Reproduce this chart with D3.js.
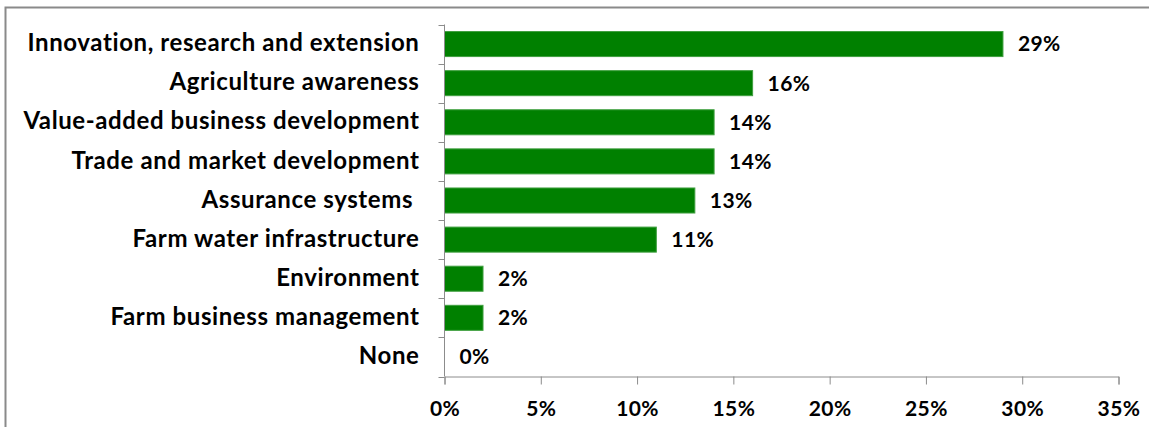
<!DOCTYPE html>
<html>
<head>
<meta charset="utf-8">
<script src="https://cdn.jsdelivr.net/npm/d3@7"></script>
<style>
  html, body { margin: 0; padding: 0; background: #fff; }
  svg { display: block; }
  text { font-family: Lato, "Open Sans", sans-serif; font-weight: bold; fill: #000; white-space: pre; }
</style>
</head>
<body>
<svg id="chart" width="1149" height="427"></svg>
<script>
// Priority areas and share of responses (%)
const categories = [
  "Innovation, research and extension",
  "Agriculture awareness",
  "Value-added business development",
  "Trade and market development",
  "Assurance systems ",
  "Farm water infrastructure",
  "Environment",
  "Farm business management",
  "None"
];
const shares = [29, 16, 14, 14, 13, 11, 2, 2, 0];
const xTicks = [0, 5, 10, 15, 20, 25, 30, 35];

const svg = d3.select("#chart");
const W = 1149, H = 427;

// outer chart frame (top and left edges visible)
svg.append("path")
  .attr("d", `M5.5,${H} V7.5 H${W}`)
  .attr("fill", "none")
  .attr("stroke", "#8a8a8a")
  .attr("stroke-width", 2);

const plot = { left: 444.5, right: 1118.5, top: 24.5, bottom: 376.5 };

const x = d3.scaleLinear().domain([0, 35]).range([plot.left, plot.right]);
const y = d3.scaleBand().domain(categories).range([plot.top, plot.bottom]).paddingInner(0.36).paddingOuter(0.18);
const yBands = d3.scaleBand().domain(categories).range([plot.top, plot.bottom]);

// bars
svg.append("g").selectAll("rect")
  .data(categories)
  .join("rect")
  .attr("x", plot.left)
  .attr("y", d => y(d))
  .attr("width", (d, i) => x(shares[i]) - x(0))
  .attr("height", y.bandwidth())
  .attr("fill", "#008000")
  .attr("stroke", (d, i) => shares[i] > 0 ? "#3f9f3f" : "none")
  .attr("stroke-width", 1);

// value labels
svg.append("g").selectAll("text")
  .data(categories)
  .join("text")
  .attr("x", (d, i) => x(shares[i]) + 15)
  .attr("y", d => y(d) + y.bandwidth() / 2 + 2)
  .attr("dominant-baseline", "middle")
  .attr("font-size", 21)
  .attr("letter-spacing", "0.4px")
  .text((d, i) => shares[i] + "%");

// vertical category axis with ticks between bands
const yAxisG = svg.append("g").attr("transform", `translate(${plot.left},0)`);
yAxisG.append("line")
  .attr("x1", 0).attr("x2", 0)
  .attr("y1", plot.top).attr("y2", plot.bottom)
  .attr("stroke", "#8c8c8c").attr("stroke-width", 1);
yAxisG.selectAll("line.tick")
  .data(d3.range(categories.length + 1))
  .join("line")
  .attr("class", "tick")
  .attr("x1", -6).attr("x2", 0)
  .attr("y1", i => Math.round(plot.top + i * yBands.step()) + 0.5)
  .attr("y2", i => Math.round(plot.top + i * yBands.step()) + 0.5)
  .attr("stroke", "#8c8c8c");
yAxisG.selectAll("text")
  .data(categories)
  .join("text")
  .attr("x", -25)
  .attr("y", d => yBands(d) + yBands.bandwidth() / 2 + 1)
  .attr("text-anchor", "end")
  .attr("dominant-baseline", "middle")
  .attr("font-size", 24)
  .attr("letter-spacing", "0.6px")
  .text(d => d);

// horizontal value axis
const xAxis = d3.axisBottom(x)
  .tickValues(xTicks)
  .tickSize(8)
  .tickPadding(17)
  .tickFormat(d => d + "%");
const xAxisG = svg.append("g")
  .attr("transform", `translate(0,${plot.bottom})`)
  .call(xAxis);
xAxisG.select(".domain").attr("stroke", "#8c8c8c");
xAxisG.selectAll(".tick line").attr("stroke", "#8c8c8c");
xAxisG.selectAll(".tick text")
  .attr("font-size", 21)
  .attr("letter-spacing", "0.4px")
  .attr("font-family", "Lato, sans-serif")
  .attr("font-weight", "bold")
  .attr("fill", "#000");
</script>
</body>
</html>
